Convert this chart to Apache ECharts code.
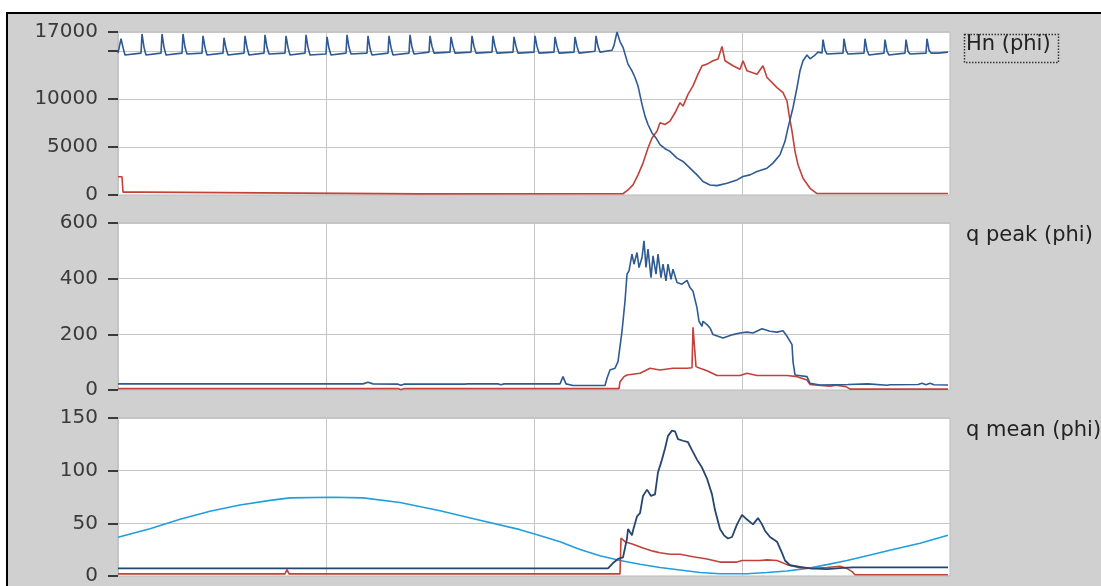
<!DOCTYPE html>
<html>
<head>
<meta charset="utf-8">
<script src="https://cdn.jsdelivr.net/npm/echarts@6/dist/echarts.min.js"></script>
<style>
  html, body { margin:0; padding:0; background:#fff; width:1101px; height:586px; overflow:hidden; }
  #frame { position:absolute; left:6px; top:12px; width:1095px; height:574px; background:#d0d0d0;
           border-left:2px solid #000; border-top:2px solid #000; }
  #chart { position:absolute; left:0; top:0; width:1101px; height:586px; }
</style>
</head>
<body>
<div id="frame"></div>
<div id="chart"></div>
<script>
// x positions are sample indices (0..832) across the time axis
const panelLabels = ['Hn (phi)', 'q peak (phi)', 'q mean (phi)'];
const yMax = [17000, 600, 150];
const yInterval = [5000, 200, 50];

// Panel 1: Hn (blue)
const hnBlueX = [0,2,3,5,7, 23,24,26,28, 43,44,46,48, 64,65,67,69, 84,85,87,89, 105,106,108,110, 126,127,129,131,
  146,147,149,151, 167,168,170,172, 187,188,190,192, 208,209,211,213, 228,229,231,233, 249,250,252,254,
  270,271,273,275, 291,292,294,296, 311,312,314,316, 332,333,335,337, 353,354,356,358, 374,375,377,379,
  395,396,398,400, 416,417,419,421, 436,437,439,441, 456,457,459,461, 477,478,480,482,
  494,496,499,502,505,510,514,517,520,524,527,530,534,538,542,547,552,559,565,572,579,585,592,599,609,619,625,632,639,649,655,662,667,670,675,679,682,685,689,692,696,700,
  704,705,707,709, 725,726,728,730, 746,747,749,751, 766,767,769,771, 787,788,790,792, 808,809,811,813, 820,830];
const hnBlueY = [14800,14800,16300,15400,14600, 14800,16800,15400,14600, 14800,16800,15400,14600, 14800,16800,15400,14700,
  14800,16600,15400,14600, 14800,16400,15300,14600, 14800,16600,15400,14600, 14800,16700,15400,14700, 14800,16600,15400,14600,
  14800,16700,15400,14600, 14700,16500,15300,14600, 14800,16700,15400,14700, 14800,16600,15300,14600, 14800,16600,15400,14600,
  14800,16700,15400,14700, 14900,16600,15500,14800, 14900,16500,15500,14800, 14900,16600,15500,14800, 14900,16600,15500,14800,
  14900,16500,15500,14800, 14900,16600,15500,14800, 14900,16500,15500,14800, 14900,16500,15500,14800, 15000,16600,15500,14900,
  15100,15600,17000,16000,15400,13650,12950,12250,11375,9450,8225,7350,6475,5950,5250,4830,4550,3850,3500,2800,2100,1400,1050,980,1225,1575,1925,2100,2450,2800,3325,4200,5600,7000,9100,11200,12950,14000,14600,14200,14500,14900,
  14800,16200,15100,14700, 14800,16300,15100,14700, 14800,16300,15100,14600, 14800,16200,15000,14600, 14800,16200,15000,14700, 14800,16300,15100,14800, 14800,14900];

// Panel 1: red
const hnRedX = [0,4,5,25,27,300,505,507,510,515,520,525,530,534,539,542,547,552,557,562,565,570,575,580,584,589,595,600,604,607,615,622,625,629,639,645,649,659,665,669,671,674,677,680,685,692,699,830];
const hnRedY = [1900,1900,300,300,130,120,130,150,525,1050,2100,3325,4900,5950,6650,7525,7350,7700,8575,9625,9275,10500,11375,12600,13475,13650,14000,14175,15500,14000,13475,13125,14000,12950,12600,13475,12250,11200,10675,9800,8400,6650,4550,3150,1750,700,150,150];

// Panel 2: q peak (blue)
const qpBlueX = [0,245,250,255,280,283,286,318,320,322,346,348,350,380,383,386,442,445,448,455,487,489,492,497,500,504,507,509,511,514,516,519,521,524,526,528,530,533,535,538,540,543,545,548,550,553,555,559,564,569,572,575,579,581,584,585,589,592,595,600,605,610,615,622,629,635,644,652,659,665,669,674,675,677,679,689,692,702,730,750,769,770,772,800,804,808,812,816,830];
const qpBlueY = [22,22,28,22,21,17,21,21,17,21,21,19,22,22,19,22,22,48,22,16,16,42,72,78,102,211,319,416,428,488,452,494,440,476,536,440,506,404,482,416,488,404,452,392,452,398,434,386,380,394,368,355,295,247,229,247,235,223,199,193,187,193,199,205,208,205,220,211,208,213,193,163,102,54,48,48,24,18,20,22,17,24,19,20,24,19,24,19,18];

// Panel 2: red
const qpRedX = [0,280,283,286,501,502,506,509,522,532,542,555,569,574,575,577,578,582,589,599,622,629,639,655,669,679,689,692,700,712,718,728,732,830];
const qpRedY = [5,5,1,5,5,30,48,54,60,78,72,78,78,80,225,225,84,78,69,52,52,60,52,52,52,48,36,20,17,14,17,12,3,3];

// Panel 3: q mean (dark blue)
const qmBlueX = [0,490,495,500,505,509,510,514,515,519,522,525,529,533,537,540,544,547,550,554,557,560,565,570,574,579,584,589,594,597,602,606,610,614,619,624,629,635,640,644,647,652,659,664,667,672,682,692,709,725,735,830];
const qmBlueY = [7.3,7.3,12.3,16.2,17.7,35.6,44.6,38.6,43.1,56.6,59.6,76,82,76,77.5,98.5,110.5,121,133,138,137.4,130,128.4,127,119.5,110.5,103,92.5,77.5,62.6,44.6,38.6,35.6,37,49,58,53.6,49,55,49,43,37,32.6,22,14.7,10.2,8.7,7.2,6.6,7.8,8.1,8.1];

// Panel 3: red
const qmRedX = [0,167,169,171,502,503,505,507,515,525,535,542,552,562,575,589,602,619,624,642,649,659,669,682,695,709,722,729,734,737,830];
const qmRedY = [2,2,6,2,2,36,35.6,32.6,30.2,26.6,23.6,22,20.7,20.7,18.3,16.2,13.2,13.2,14.7,14.7,15.3,14.7,10.8,7.8,7.2,8.1,9.3,7.2,4.2,1.2,1.2];

// Panel 3: light blue
const qmCyanX = [0,32,62,92,122,152,172,215,245,282,322,362,402,420,442,462,482,502,522,542,562,582,602,629,649,669,689,709,729,749,775,802,830];
const qmCyanY = [36.8,44.9,53.9,61.4,67.4,71.8,74.2,74.8,74.2,69.8,62,53,44,39,32.6,25.1,19.2,14.7,11.1,8.1,5.7,3.3,2.1,2.1,3.3,4.8,7.2,10.8,14.7,19.2,25.1,31.1,38.6];

const BLUE = '#2f5a92', RED = '#c2413a', NAVY = '#26456f', CYAN = '#1f9fe0';
const zip = (xs, ys) => xs.map((x, i) => [x, ys[i]]);

const gridTops = [32, 223, 418];
const gridHeights = [163, 167, 167];

const chart = echarts.init(document.getElementById('chart'), null, {renderer: 'canvas'});
const grids = [], xAxes = [], yAxes = [];
for (let i = 0; i < 3; i++) {
  grids.push({left: 118, top: gridTops[i], width: 832, height: gridHeights[i], show: true,
    backgroundColor: '#ffffff', borderColor: '#b8b8b8', borderWidth: 1, containLabel: false});
  xAxes.push({type: 'value', gridIndex: i, min: 0, max: 832, interval: 208,
    axisLabel: {show: false}, axisTick: {show: false}, axisLine: {show: false},
    splitLine: {show: true, lineStyle: {color: '#c6c6c6', width: 1}}});
  yAxes.push({type: 'value', gridIndex: i, min: 0, max: yMax[i], interval: yInterval[i], offset: 5,
    axisLine: {show: false},
    axisTick: {show: true, length: 10, lineStyle: {color: '#3a3a3a', width: 2}},
    axisLabel: {show: true, color: '#3a3a3a', fontSize: 20, fontFamily: 'DejaVu Sans', margin: 15,
      showMaxLabel: true, showMinLabel: true,
      formatter: (v) => (i === 0 && v === 15000) ? '' : String(v)},
    splitLine: {show: true, lineStyle: {color: '#c6c6c6', width: 1}}});
}

function line(xs, ys, color, idx, w) {
  return {type: 'line', xAxisIndex: idx, yAxisIndex: idx, data: zip(xs, ys), showSymbol: false,
    symbol: 'none', smooth: false, lineStyle: {color: color, width: w || 1.6}, itemStyle: {color: color},
    silent: true, animation: false};
}

chart.setOption({
  backgroundColor: 'transparent',
  animation: false,
  grid: grids,
  xAxis: xAxes,
  yAxis: yAxes,
  series: [
    line(hnRedX, hnRedY, RED, 0),
    line(hnBlueX, hnBlueY, BLUE, 0),
    line(qpRedX, qpRedY, RED, 1),
    line(qpBlueX, qpBlueY, BLUE, 1),
    line(qmCyanX, qmCyanY, CYAN, 2),
    line(qmRedX, qmRedY, RED, 2),
    line(qmBlueX, qmBlueY, NAVY, 2, 1.8)
  ],
  graphic: [
    {type: 'text', left: 966, top: 34, style: {text: panelLabels[0], fill: '#222', font: '21px "DejaVu Sans"'}},
    {type: 'rect', left: 962, top: 32, shape: {width: 94, height: 28},
      style: {fill: 'none', stroke: '#333', lineWidth: 1.5, lineDash: [1.5, 1.5]}},
    {type: 'text', left: 966, top: 225, style: {text: panelLabels[1], fill: '#222', font: '21px "DejaVu Sans"'}},
    {type: 'text', left: 966, top: 420, style: {text: panelLabels[2], fill: '#222', font: '21px "DejaVu Sans"'}}
  ]
});
</script>
</body>
</html>
